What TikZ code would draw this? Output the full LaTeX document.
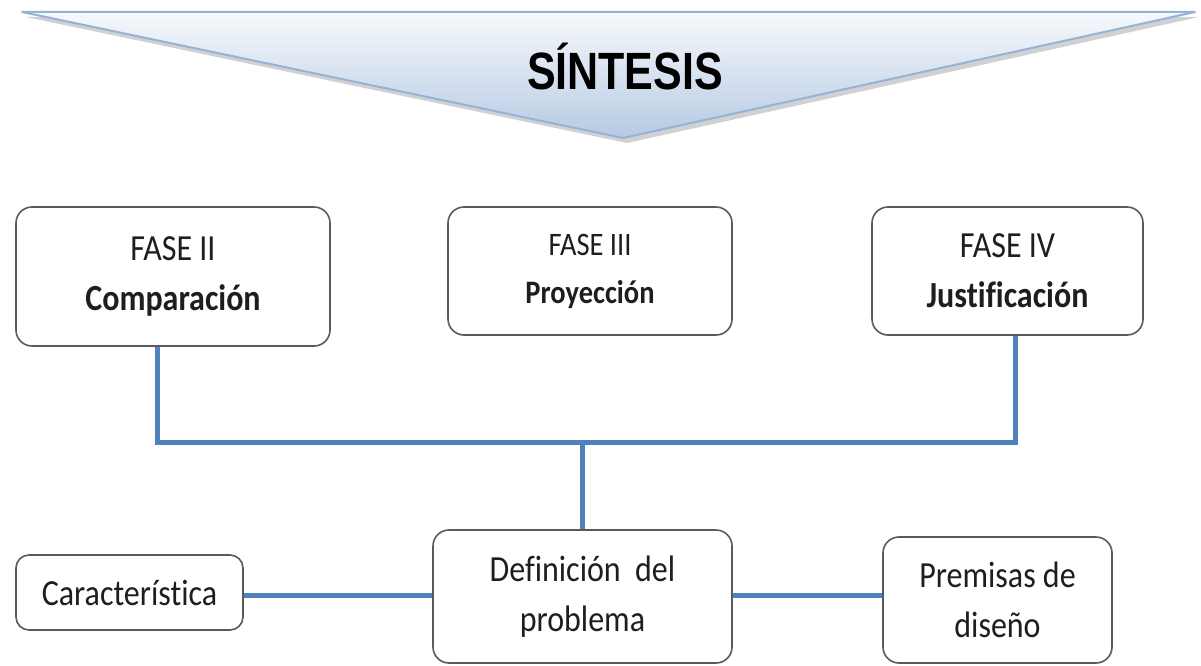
\documentclass[tikz,border=0pt]{standalone}
\usepackage{fontspec}
\setmainfont{Carlito}[Ligatures=NoCommon]
\newfontfamily\arialf{Liberation Sans}
\usepackage{graphicx}
\definecolor{connblue}{HTML}{4F81BD}
\definecolor{boxgray}{HTML}{5A5A5A}
\definecolor{tritop}{HTML}{F7F9FC}
\definecolor{tribot}{HTML}{B6CAE3}
\definecolor{triedge}{HTML}{95B3D7}
\definecolor{txt}{HTML}{1E1E1E}
\newcommand{\vsc}[1]{\scalebox{1}[1.15]{#1}}
\begin{document}
\begin{tikzpicture}[x=1pt,y=-1pt,
  box/.style={draw=boxgray, line width=1.6pt, rounded corners=16pt, fill=white,
    align=center, inner sep=0pt, text=txt},
  conn/.style={draw=connblue, line width=5pt},
  big/.style={font=\fontsize{32}{50}\selectfont},
  mid/.style={font=\fontsize{28.5}{48}\selectfont},
]
\useasboundingbox (0,0) rectangle (1201,666);

% banner triangle
\fill[black!30, opacity=0.6] (26,17) -- (1199,17) -- (627,143) -- cycle;
\shade[top color=tritop, bottom color=tribot] (22,12) -- (1195,12) -- (623,138) -- cycle;
\draw[triedge, line width=2pt, line join=round] (22,12) -- (1195,12) -- (623,138) -- cycle;
\node (sintesis) at (625,67) {\scalebox{1}[1.22]{\arialf\bfseries\fontsize{43}{50}\selectfont SÍNTESIS}};

% boxes
\node[box, big, minimum width=314pt, minimum height=139pt] (fase2) at (173,276.5)
  {\vsc{FASE II}\\\vsc{\bfseries Comparación}};
\node[box, mid, minimum width=284pt, minimum height=128pt] (fase3) at (590,271)
  {\vsc{FASE III}\\\vsc{\bfseries Proyección}};
\node[box, big, minimum width=271pt, minimum height=128pt] (fase4) at (1007.5,271)
  {\vsc{FASE IV}\\\vsc{\bfseries Justificación}};
\node[box, big, rounded corners=13pt, minimum width=227pt, minimum height=75pt] (car) at (129.5,592.5)
  {\vsc{Característica}};
\node[box, big, minimum width=299pt, minimum height=133pt] (def) at (582.5,596.5)
  {\vsc{Definición\ \ del}\\\vsc{problema}};
\node[box, big, minimum width=229pt, minimum height=126pt] (prem) at (997.5,600)
  {\vsc{Premisas de}\\\vsc{diseño}};

% connectors
\coordinate (c2) at (157,442);
\coordinate (c4) at (1015,442);
\coordinate (hy) at (0,595);
\draw[conn] (fase2.south -| c2) -- (c2) -- (c4) -- (fase4.south -| c4);
\draw[conn] (def.north |- c2) -- (def.north);
\draw[conn] (car.east |- hy) -- (def.west |- hy);
\draw[conn] (def.east |- hy) -- (prem.west |- hy);
\end{tikzpicture}
\end{document}
